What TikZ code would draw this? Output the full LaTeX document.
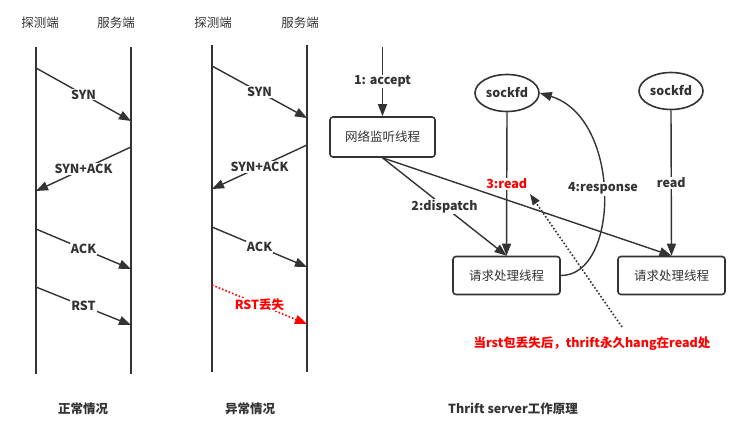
\documentclass[tikz,border=0pt]{standalone}
\usepackage{fontspec}
\setmainfont{Noto Sans CJK SC}
\usepackage{tikz}
\usetikzlibrary{arrows,arrows.meta,shapes,positioning}
\definecolor{ink}{HTML}{333333}
\newcommand{\diafont}{\fontsize{12.5}{15}\selectfont}
\tikzstyle{lifeline} = [draw=ink, line width=1.6pt]
\tikzstyle{msg} = [draw=ink, line width=1.4pt, -{Triangle[length=12pt,width=9pt]}]
\tikzstyle{lostmsg} = [draw=red, dotted, line width=1.6pt, -{Triangle[length=12pt,width=9pt]}]
\tikzstyle{lbl} = [fill=white, inner sep=1pt, font=\diafont\bfseries, text=ink]
\tikzstyle{thread} = [rectangle, rounded corners=3pt, draw=ink, line width=1.6pt, minimum width=107pt, minimum height=38pt, font=\diafont, text=ink]
\tikzstyle{sock} = [ellipse, draw=ink, line width=1.6pt, minimum width=64pt, minimum height=37pt, inner sep=0pt, font=\diafont\bfseries, text=ink]
\tikzstyle{caption} = [font=\diafont\bfseries, text=ink]
\begin{document}
\begin{tikzpicture}[x=1pt, y=-1pt]
			\tikzstyle{every node}=[font=\diafont]
			\useasboundingbox (0,0) rectangle (740,424);
			
			% 正常情况
			\node[text=ink] (probeA) at (40,23) {探测端};
			\node[text=ink] (serverA) at (116,23) {服务端};
			\draw[lifeline] (36,47) coordinate (probeAtop) -- (36,374) coordinate (probeAbot);
			\draw[lifeline] (131,47) coordinate (serverAtop) -- (131,374) coordinate (serverAbot);
			\coordinate (a1) at (36,68);   \coordinate (b1) at (131,121);
			\coordinate (b2) at (131,147); \coordinate (a2) at (36,191);
			\coordinate (a3) at (36,229);  \coordinate (b3) at (131,269);
			\coordinate (a4) at (36,287);  \coordinate (b4) at (131,325);
			\draw[msg] (a1) -- node[lbl] (synA) {SYN} (b1);
			\draw[msg] (b2) -- node[lbl] (synackA) {SYN+ACK} (a2);
			\draw[msg] (a3) -- node[lbl] (ackA) {ACK} (b3);
			\draw[msg] (a4) -- node[lbl] (rstA) {RST} (b4);
			\node[caption] (normal) at (83,409) {正常情况};
			
			% 异常情况
			\node[text=ink] (probeB) at (213,23) {探测端};
			\node[text=ink] (serverB) at (300,23) {服务端};
			\draw[lifeline] (212,45) coordinate (probeBtop) -- (212,372) coordinate (probeBbot);
			\draw[lifeline] (307,45) coordinate (serverBtop) -- (307,372) coordinate (serverBbot);
			\coordinate (c1) at (212,66);  \coordinate (d1) at (307,118);
			\coordinate (d2) at (307,145); \coordinate (c2) at (212,189);
			\coordinate (c3) at (212,227); \coordinate (d3) at (307,267);
			\coordinate (c4) at (212,285); \coordinate (d4) at (307,324);
			\draw[msg] (c1) -- node[lbl] (synB) {SYN} (d1);
			\draw[msg] (d2) -- node[lbl] (synackB) {SYN+ACK} (c2);
			\draw[msg] (c3) -- node[lbl] (ackB) {ACK} (d3);
			\draw[lostmsg] (c4) -- node[lbl, text=red] (rstB) {RST丢失} (d4);
			\node[caption] (abnormal) at (250,409) {异常情况};
			
			% Thrift server
			\coordinate (acceptin) at (382.5,47);
			\node[thread, minimum width=105pt, minimum height=40pt] (listen) at (382.5,137) {网络监听线程};
			\node[sock] (sock1) at (507,93) {sockfd};
			\node[sock] (sock2) at (671,91) {sockfd};
			\node[thread] (req1) at (506.5,275.5) {请求处理线程};
			\node[thread] (req2) at (671.5,275.5) {请求处理线程};
			
			\draw[msg] (acceptin) -- node[lbl] (accept) {1: accept} (listen.north);
			\draw[msg] (listen.south) -- node[lbl] (dispatch) {2:dispatch} (req1.north);
			\draw[msg] (listen.south) -- (req2.north);
			\draw[msg] (sock1.south) -- node[lbl, text=red] (read1) {3:read} (req1.north);
			\draw[msg] (sock2.south) -- node[lbl] (read2) {read} (req2.north);
			\draw[msg] (req1.east) .. controls (620,276) and (622,118) .. node[lbl, pos=0.52] (response) {4:response} (sock1.east);
			
			\coordinate (hangS) at (622,327);
			\coordinate (hangE) at (530,194);
			\draw[draw=ink, dotted, line width=1.6pt, -{Triangle[length=11pt,width=8pt]}] (hangS) -- (hangE);
			\node[caption, text=red] (hangnote) at (592,344) {当rst包丢失后，thrift永久hang在read处};
			\node[caption] (thrift) at (513,409) {Thrift server工作原理};
			
		\end{tikzpicture}
\end{document}
